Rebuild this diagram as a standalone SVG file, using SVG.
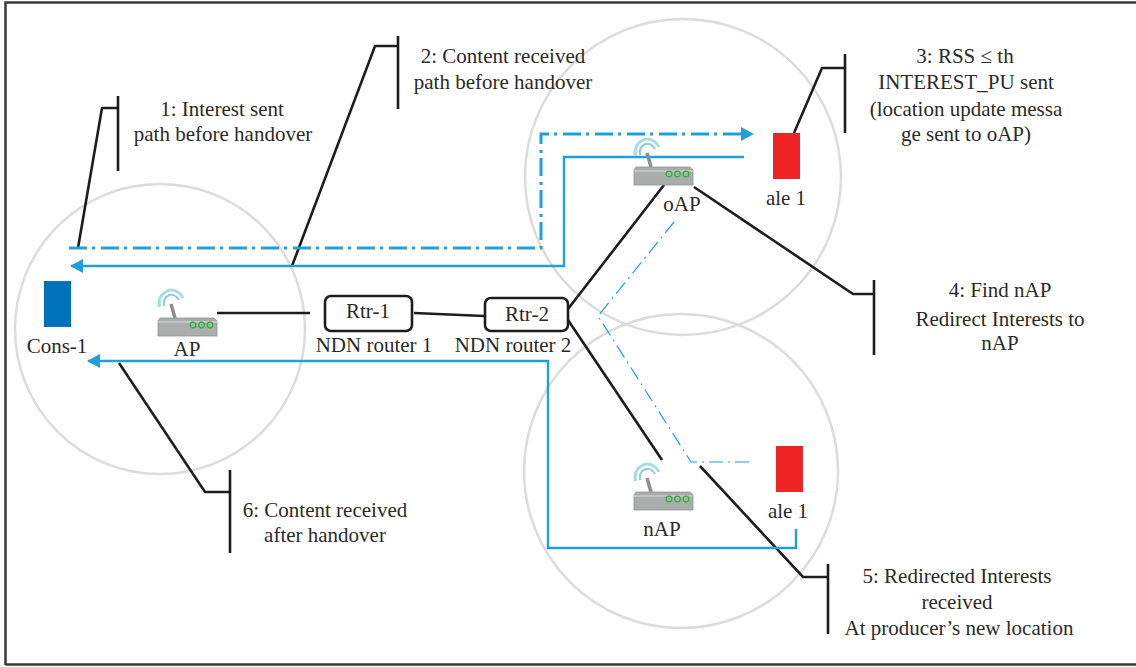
<svg xmlns="http://www.w3.org/2000/svg" width="1136" height="667" viewBox="0 0 1136 667">
<style>
text{font-family:"Liberation Serif","Times New Roman",serif;font-size:21px;fill:#2b2a29;text-anchor:middle}
.c{fill:none;stroke:#dcdcdc;stroke-width:2.5}
.k{fill:none;stroke:#1d1d1b;stroke-width:2.6}
.b{fill:none;stroke:#1f9fdc;stroke-width:2.4}
.d{fill:none;stroke:#1f9fdc;stroke-width:3;stroke-dasharray:18 5 3 6}
.t{fill:none;stroke:#1f9fdc;stroke-width:1.2;stroke-dasharray:14 5 2 5}
.r{fill:#fff;stroke:#1d1d1b;stroke-width:2.6}
</style>
<defs>
<marker id="a" markerUnits="userSpaceOnUse" markerWidth="13" markerHeight="14" refX="12" refY="7" orient="auto"><path d="M0 0L13 7L0 14Z" fill="#1f9fdc"/></marker>
<symbol id="w" width="60" height="52" viewBox="0 0 60 52" overflow="visible">
<path d="M1.500 22C-2 8 16 -3 25 13" fill="none" stroke="#a8dbe6" stroke-width="3"/>
<path d="M6 21C4 11 15 5 21 15" fill="none" stroke="#8fcbd8" stroke-width="2.200"/>
<path d="M13 19L17 33" stroke="#8d8f8e" stroke-width="3.500"/>
<path d="M2 33L56 33L59 36L59 51L0 51L0 36Z" fill="#a9adac" stroke="#8f9392" stroke-width=".8"/>
<path d="M0 37L59 37" stroke="#c9cccb" stroke-width="1.500"/>
<g fill="#8bc78f" stroke="#3fa54c" stroke-width="1.200"><circle cx="35" cy="40" r="2.800"/><circle cx="43.500" cy="40" r="2.800"/><circle cx="52" cy="40" r="2.800"/></g>
</symbol>
</defs>
<rect width="1136" height="667" fill="#fff"/>
<path d="M5.500 665V2.500H1136M5.500 664.500H1136" fill="none" stroke="#3a3a3a" stroke-width="2.500"/>
<circle class="c" cx="160" cy="329" r="145"/>
<circle class="c" cx="683" cy="177" r="158"/>
<circle class="c" cx="681" cy="471" r="157"/>
<g id="connectors">
<path class="k" d="M217 313H310M414 313L484 316M568 309L664 185M568 320L662 460M694 187L853 294H874M874 280V355"/>
<path class="k" d="M700 466L803 577H828M828 564V634"/>
<path class="k" d="M119 363L205 492H230M230 470V553"/>
<path class="k" d="M78 248L102 108H118M118 96V171"/>
<path class="k" d="M292 266L375 46H398M398 36V109"/>
<path class="k" d="M794 133L822 68H845M845 54V133"/>
<path class="d" d="M69 248H541V134H753" marker-end="url(#a)"/>
<path class="b" d="M744 157H564V266H71" marker-end="url(#a)"/>
<path class="b" d="M796 529V548H548V361H88" marker-end="url(#a)"/>
<path class="t" d="M674 222L598 316L691 462H752"/>
</g>
<g id="cons-1"><rect x="44" y="281" width="27" height="46" fill="#0072bc"/><text x="57" y="353">Cons-1</text></g>
<g id="ap"><use href="#w" x="158" y="285"/><text x="187" y="356">AP</text></g>
<g id="rtr-1"><rect class="r" x="325" y="296" width="87" height="35" rx="6"/><text x="368" y="318">Rtr-1</text><text x="374" y="352">NDN router 1</text></g>
<g id="rtr-2"><rect class="r" x="485" y="298" width="83" height="33" rx="6"/><text x="527" y="321">Rtr-2</text><text x="513" y="352">NDN router 2</text></g>
<g id="oap"><use href="#w" x="634" y="134"/><text x="682" y="211">oAP</text></g>
<g id="nap"><use href="#w" x="634" y="459"/><text x="662" y="536">nAP</text></g>
<g id="ale-top"><rect x="773" y="133" width="27" height="46" fill="#ee2524"/><text x="786" y="205">ale 1</text></g>
<g id="ale-bottom"><rect x="776" y="446" width="27" height="46" fill="#ee2524"/><text x="788" y="518">ale 1</text></g>
<g id="label-1"><text x="222" y="116">1: Interest sent</text><text x="223" y="141">path before handover</text></g>
<g id="label-2"><text x="503" y="63">2: Content received</text><text x="503" y="89">path before handover</text></g>
<g id="label-3"><text x="965" y="63">3: RSS ≤ th</text><text x="966" y="89">INTEREST_PU sent</text><text x="966" y="116">(location update messa</text><text x="966" y="141">ge sent to oAP)</text></g>
<g id="label-4"><text x="1000" y="297">4: Find nAP</text><text x="1000" y="326">Redirect Interests to</text><text x="1000" y="350">nAP</text></g>
<g id="label-5"><text x="957" y="583">5: Redirected Interests</text><text x="957" y="609">received</text><text x="959" y="635">At producer’s new location</text></g>
<g id="label-6"><text x="325" y="517">6: Content received</text><text x="325" y="542">after handover</text></g>
</svg>
